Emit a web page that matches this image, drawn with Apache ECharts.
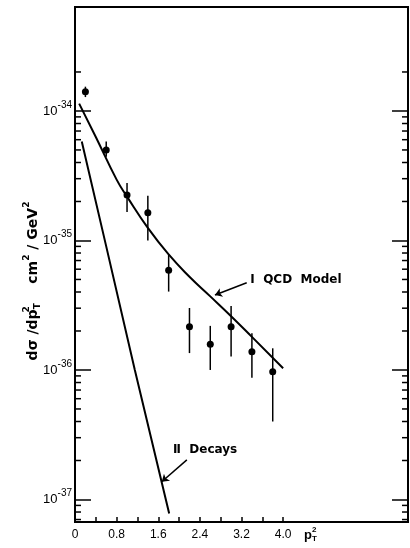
<!DOCTYPE html>
<html><head><meta charset="utf-8">
<script src="https://cdn.jsdelivr.net/npm/echarts@6/dist/echarts.min.js"></script>
<style>html,body{margin:0;padding:0;background:#fff}#c{width:410px;height:548px}</style>
</head><body><div id="c"></div>
<script>
// ---- data ----
const pT2 = [0.2, 0.6, 1.0, 1.4, 1.8, 2.2, 2.6, 3.0, 3.4, 3.8];
const sigma = [1.41e-34, 5.0e-35, 2.24e-35, 1.64e-35, 5.9e-36, 2.16e-36, 1.58e-36, 2.16e-36, 1.38e-36, 9.7e-37];
const errLow = [1.28e-34, 4.43e-35, 1.66e-35, 1.0e-35, 4.03e-36, 1.35e-36, 1.0e-36, 1.27e-36, 8.7e-37, 4.0e-37];
const errHigh = [1.54e-34, 5.8e-35, 2.78e-35, 2.21e-35, 7.73e-36, 3.01e-36, 2.19e-36, 3.12e-36, 1.92e-36, 1.47e-36];
const qcdX = [0.08, 0.4, 0.8, 1.0, 1.4, 1.8, 2.2, 2.6, 3.0, 3.4, 4.0];
const qcdY = [1.14e-34, 6.3e-35, 2.95e-35, 2.18e-35, 1.25e-35, 7.8e-36, 5.25e-36, 3.7e-36, 2.6e-36, 1.8e-36, 1.03e-36];
const decX = [0.13, 0.6, 1.15, 1.81];
const decY = [5.8e-35, 9.0e-36, 1.0e-36, 7.8e-38];
const xTickValues = [0.4, 0.8, 1.2, 1.6, 2.0, 2.4, 2.8, 3.2, 3.6, 4.0];
const xLabelValues = [0, 0.8, 1.6, 2.4, 3.2, 4.0];
const yDecades = [1e-38, 1e-37, 1e-36, 1e-35];
const minorMult = [2, 3, 4, 5, 6, 7, 8, 9];
const yMinorTop = [2e-34];
const qcdLabel = 'Ⅰ  QCD  Model';
const decLabel = 'Ⅱ  Decays';
const qcdArrow = [[3.30, 4.72e-36], [2.69, 3.79e-36]];
const decArrow = [[2.15, 2.02e-37], [1.667, 1.37e-37]];
const qcdLabelPos = [3.37, 4.96e-36];
const decLabelPos = [1.885, 2.41e-37];

const yMinor = [];
yDecades.forEach(d => minorMult.forEach(m => yMinor.push(d * m)));
yMinorTop.forEach(v => yMinor.push(v));

const FONT = 'Liberation Sans';
const chart = echarts.init(document.getElementById('c'), null, {renderer: 'canvas'});

function yAxisDef(pos, labels) {
  return {
    type: 'log', logBase: 10, position: pos,
    min: 6.7e-38, max: 6.35e-34,
    axisLine: {show: false},
    splitLine: {show: false},
    minorTick: {show: false},
    axisTick: {show: true, inside: true, length: 16, lineStyle: {color: '#000', width: 1.5}},
    axisLabel: labels ? {
      show: true, margin: 3, showMinLabel: false, showMaxLabel: false,
      formatter: v => '{b|10}{s|' + Math.round(Math.log10(v)) + '}',
      rich: {
        b: {fontFamily: FONT, fontSize: 13, color: '#000'},
        s: {fontFamily: FONT, fontSize: 10, color: '#000', padding: [0, 0, 12, 0]}
      }
    } : {show: false}
  };
}

chart.setOption({
  animation: false,
  grid: {left: 75, right: 2, top: 7, bottom: 26, show: true, borderColor: '#000', borderWidth: 2, outerBoundsMode: 'none', containLabel: false},
  xAxis: {
    type: 'value', min: 0, max: 6.4,
    axisLine: {show: false}, splitLine: {show: false},
    axisTick: {show: true, inside: true, length: 5, customValues: xTickValues, lineStyle: {color: '#000', width: 1.5}},
    axisLabel: {show: true, customValues: xLabelValues, margin: 7, fontFamily: FONT, fontSize: 12, color: '#000',
      formatter: v => v === 0 ? '0' : v.toFixed(1)}
  },
  yAxis: [yAxisDef('left', true), yAxisDef('right', false)],
  series: [
    {type: 'custom', clip: true, silent: true, data: yMinor.map(v => [0, v]), encode: {x: 0, y: 1},
      renderItem: (params, api) => {
        const cs = params.coordSys;
        const y = api.coord([0, api.value(1)])[1];
        if (y < cs.y || y > cs.y + cs.height) return null;
        const st = {stroke: '#000', lineWidth: 1.5};
        return {type: 'group', children: [
          {type: 'line', shape: {x1: cs.x, y1: y, x2: cs.x + 6, y2: y}, style: st},
          {type: 'line', shape: {x1: cs.x + cs.width - 6, y1: y, x2: cs.x + cs.width, y2: y}, style: st}
        ]};
      }},
    {type: 'line', data: qcdX.map((x, i) => [x, qcdY[i]]), smooth: 0.5, showSymbol: false, lineStyle: {color: '#000', width: 2}},
    {type: 'line', data: decX.map((x, i) => [x, decY[i]]), smooth: false, showSymbol: false, lineStyle: {color: '#000', width: 2}},
    {type: 'custom', data: pT2.map((x, i) => [x, errLow[i], errHigh[i]]), encode: {x: 0, y: [1, 2]},
      renderItem: (params, api) => {
        const lo = api.coord([api.value(0), api.value(1)]);
        const hi = api.coord([api.value(0), api.value(2)]);
        return {type: 'line', shape: {x1: lo[0], y1: lo[1], x2: hi[0], y2: hi[1]}, style: {stroke: '#000', lineWidth: 1.5}};
      }},
    {type: 'scatter', data: pT2.map((x, i) => [x, sigma[i]]), symbolSize: 7, itemStyle: {color: '#000', opacity: 1}},
    {type: 'lines', coordinateSystem: 'cartesian2d', symbol: ['none', 'arrow'], symbolSize: 7,
      lineStyle: {color: '#000', width: 1.5, opacity: 1},
      data: [{coords: qcdArrow}, {coords: decArrow}]},
    {type: 'scatter', symbolSize: 0, silent: true,
      label: {show: true, position: 'right', distance: 0, color: '#000', opacity: 1, fontFamily: 'DejaVu Sans', fontSize: 12, fontWeight: 'bold', formatter: p => p.data.name},
      data: [{name: qcdLabel, value: qcdLabelPos}, {name: decLabel, value: decLabelPos}]}
  ],
  graphic: [
    {type: 'text', x: 33, y: 281, rotation: Math.PI / 2,
      style: {
        text: '{n|dσ /dp}{sup0|2}{sub|T}{n|    cm}{sup|2}{n| / GeV}{sup|2}',
        align: 'center', verticalAlign: 'middle',
        rich: {
          n: {fontFamily: 'DejaVu Sans', fontSize: 14, fontWeight: 'bold', fill: '#000'},
          sup: {fontFamily: 'DejaVu Sans', fontSize: 9, fontWeight: 'bold', fill: '#000', padding: [0, 0, 13, 0]},
          sup0: {fontFamily: 'DejaVu Sans', fontSize: 9, fontWeight: 'bold', fill: '#000', padding: [0, 0, 13, 0], width: 0.1},
          sub: {fontFamily: 'DejaVu Sans', fontSize: 9, fontWeight: 'bold', fill: '#000', padding: [9, 0, 0, 0]}
        }
      }},
    {type: 'text', x: 304, y: 535,
      style: {
        text: '{n|p}{sup0|2}{sub|T}', align: 'left', verticalAlign: 'middle',
        rich: {
          n: {fontFamily: FONT, fontSize: 13, fontWeight: 'bold', fill: '#000'},
          sup0: {fontFamily: FONT, fontSize: 8, fontWeight: 'bold', fill: '#000', padding: [0, 0, 10, 0], width: 0.1},
          sub: {fontFamily: FONT, fontSize: 8, fontWeight: 'bold', fill: '#000', padding: [8, 0, 0, 0]}
        }
      }}
  ]
});
</script></body></html>
